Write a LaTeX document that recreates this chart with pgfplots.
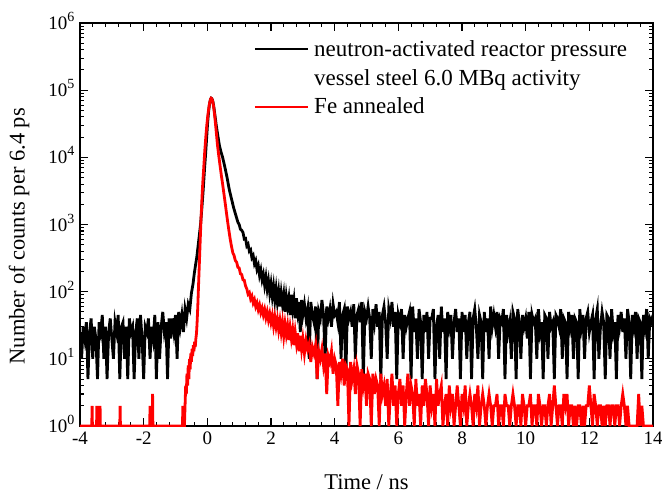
\documentclass[border=0pt]{standalone}
\usepackage{fontspec}
\setmainfont{Liberation Serif}
\usepackage{pgfplots}
\pgfplotsset{compat=1.18}
\definecolor{myred}{RGB}{255,0,0}
\newcommand{\expo}[1]{\raisebox{0.42em}{\fontsize{14bp}{14bp}\selectfont #1}}
\begin{document}
\begin{tikzpicture}
\begin{axis}[
  at={(0,0)}, anchor=south west,
  scale only axis, width=573bp, height=403bp,
  xmin=-4, xmax=14, ymin=1, ymax=1000000,
  ymode=log,
  xtick={-4,-2,0,2,4,6,8,10,12,14},
  xticklabels={-4,-2,0,2,4,6,8,10,12,14},
  minor x tick num=4,
  ytick={1,10,100,1000,10000,100000,1000000},
  yticklabels={10\expo{0},10\expo{1},10\expo{2},10\expo{3},10\expo{4},10\expo{5},10\expo{6}},
  minor ytick={2,3,4,5,6,7,8,9,20,30,40,50,60,70,80,90,200,300,400,500,600,700,800,900,2000,3000,4000,5000,6000,7000,8000,9000,20000,30000,40000,50000,60000,70000,80000,90000,200000,300000,400000,500000,600000,700000,800000,900000},
  tick align=inside,
  xtick pos=both, ytick pos=both,
  xticklabel pos=lower, yticklabel pos=left,
  major tick length=8bp, minor tick length=4.5bp,
  every tick/.style={black, line width=1.1bp},
  axis line style={line width=1.4bp},
  tick label style={font=\fontsize{19bp}{21bp}\selectfont},
  yticklabel style={xshift=-2bp, yshift=2bp},
  xticklabel style={yshift=-2bp},
  label style={font=\fontsize{22.5bp}{26bp}\selectfont},
  xlabel={Time / ns},
  ylabel={Number of counts per 6.4 ps},
  xlabel style={at={(axis description cs:0.5,0)}, anchor=center, yshift=-56bp},
  ylabel style={at={([xshift=-61bp]axis description cs:0,0.471)}, anchor=center},
]
\addplot[black, line width=2.8bp] coordinates {
(-4.00,25)(-3.95,10)(-3.90,30)(-3.85,20)(-3.80,35)(-3.75,5)(-3.70,25)(-3.65,40)(-3.60,10)(-3.55,30)(-3.50,20)(-3.45,5)(-3.40,35)(-3.35,25)(-3.30,45)(-3.25,10)(-3.20,30)(-3.15,5)(-3.10,25)(-3.05,40)
(-3.00,20)(-2.95,10)(-2.90,35)(-2.85,25)(-2.80,45)(-2.75,5)(-2.70,30)(-2.65,35)(-2.60,10)(-2.55,30)(-2.50,5)(-2.45,40)(-2.40,25)(-2.35,30)(-2.30,5)(-2.25,25)(-2.20,40)(-2.15,10)(-2.10,45)(-2.05,20)
(-2.00,5)(-1.95,30)(-1.90,25)(-1.85,40)(-1.80,10)(-1.75,30)(-1.70,20)(-1.65,45)(-1.60,5)(-1.55,35)(-1.50,10)(-1.45,30)(-1.40,50)(-1.35,25)(-1.30,35)(-1.25,5)(-1.20,40)
(-1.15,20)(-1.10,40)(-1.05,25)(-1.00,45)(-0.95,10)(-0.90,50)(-0.85,30)(-0.80,45)(-0.75,25)(-0.70,55)(-0.65,40)(-0.60,65)(-0.55,55)(-0.50,95)(-0.45,130)(-0.41,186)(-0.37,250)(-0.33,330)(-0.29,480)(-0.25,700)(-0.21,1040)(-0.17,1800)(-0.13,3250)(-0.09,6500)(-0.05,12000)(-0.02,20000)(0.01,33000)(0.04,48000)(0.07,63000)(0.10,73000)(0.12,76000)(0.14,75000)(0.17,69000)(0.20,58000)(0.24,42000)(0.28,30000)(0.33,21000)(0.38,15000)(0.43,12000)(0.48,10000)(0.55,7200)(0.62,5000)(0.69,3300)(0.76,2400)(0.83,1750)(0.90,1350)(0.96,1080)
(1.00,1000)(1.04,850)(1.08,820)(1.12,760)(1.16,610)(1.20,620)(1.24,480)(1.28,510)(1.32,400)(1.36,420)(1.40,320)(1.44,345)(1.48,260)(1.52,290)(1.56,215)(1.60,245)(1.64,175)(1.68,210)(1.72,150)(1.76,180)(1.80,125)(1.84,165)(1.88,110)(1.92,145)(1.96,95)(2.00,130)(2.04,85)(2.08,120)(2.12,75)(2.16,110)(2.20,70)(2.24,100)(2.28,60)(2.32,95)(2.36,65)(2.40,90)(2.44,50)(2.48,85)(2.52,60)(2.56,80)(2.60,45)(2.64,90)(2.68,55)(2.72,75)(2.76,40)(2.80,80)(2.84,50)(2.88,70)(2.92,25)(2.96,75)(3.00,45)
(3.05,65)(3.10,40)(3.15,55)(3.20,10)(3.25,70)(3.30,45)(3.35,35)(3.40,60)(3.45,5)(3.50,50)(3.55,40)(3.60,75)(3.65,45)(3.70,10)(3.75,60)(3.80,40)(3.85,55)(3.90,30)(3.95,65)(4.00,45)
(4.05,50)(4.10,35)(4.15,70)(4.20,10)(4.25,45)(4.30,55)(4.35,5)(4.40,60)(4.45,40)(4.50,50)(4.55,30)(4.60,65)(4.65,10)(4.70,45)(4.75,55)(4.80,35)(4.85,70)(4.90,5)(4.95,50)(5.00,40)
(5.05,60)(5.10,40)(5.15,10)(5.20,55)(5.25,35)(5.30,65)(5.35,30)(5.40,50)(5.45,5)(5.50,45)(5.55,60)(5.60,35)(5.65,10)(5.70,55)(5.75,40)(5.80,70)(5.85,30)(5.90,50)(5.95,5)(6.00,45)
(6.05,35)(6.10,55)(6.15,10)(6.20,45)(6.25,30)(6.30,40)(6.35,50)(6.40,5)(6.45,60)(6.50,25)(6.55,40)(6.60,10)(6.65,55)(6.70,35)(6.75,5)(6.80,45)(6.85,25)(6.90,50)(6.95,10)(7.00,40)
(7.05,40)(7.10,55)(7.15,5)(7.20,30)(7.25,45)(7.30,10)(7.35,60)(7.40,25)(7.45,40)(7.50,5)(7.55,50)(7.60,30)(7.65,45)(7.70,10)(7.75,35)(7.80,55)(7.85,25)(7.90,40)(7.95,5)(8.00,50)
(8.05,25)(8.10,45)(8.15,10)(8.20,35)(8.25,50)(8.30,5)(8.35,40)(8.40,55)(8.45,30)(8.50,10)(8.55,45)(8.60,35)(8.65,5)(8.70,50)(8.75,25)(8.80,40)(8.85,10)(8.90,60)(8.95,30)(9.00,45)
(9.05,30)(9.10,50)(9.15,10)(9.20,40)(9.25,35)(9.30,55)(9.35,5)(9.40,45)(9.45,25)(9.50,35)(9.55,10)(9.60,50)(9.65,40)(9.70,5)(9.75,55)(9.80,35)(9.85,10)(9.90,45)(9.95,30)(10.00,40)
(10.05,20)(10.10,50)(10.15,5)(10.20,45)(10.25,35)(10.30,40)(10.35,10)(10.40,55)(10.45,25)(10.50,35)(10.55,5)(10.60,45)(10.65,40)(10.70,10)(10.75,50)(10.80,30)(10.85,35)(10.90,5)(10.95,45)(11.00,40)
(11.05,30)(11.10,55)(11.15,10)(11.20,40)(11.25,35)(11.30,5)(11.35,50)(11.40,30)(11.45,45)(11.50,10)(11.55,40)(11.60,35)(11.65,5)(11.70,55)(11.75,30)(11.80,45)(11.85,10)(11.90,40)(11.95,50)(12.00,25)
(12.05,35)(12.10,45)(12.15,5)(12.20,40)(12.25,55)(12.30,10)(12.35,30)(12.40,50)(12.45,35)(12.50,5)(12.55,45)(12.60,40)(12.65,10)(12.70,55)(12.75,25)(12.80,35)(12.85,5)(12.90,45)(12.95,30)(13.00,50)
(13.05,25)(13.10,40)(13.15,10)(13.20,55)(13.25,35)(13.30,5)(13.35,45)(13.40,30)(13.45,50)(13.50,10)(13.55,40)(13.60,35)(13.65,5)(13.70,45)(13.75,30)(13.80,55)(13.85,10)(13.90,40)(13.95,35)(14.00,45)
};
\addplot[myred, line width=2.8bp] coordinates {
(-4.00,1)(-3.63,1)(-3.62,2)(-3.61,1)(-3.48,1)(-3.47,2)(-3.46,1)(-3.38,1)(-3.37,2)(-3.36,1)(-2.75,1)(-2.74,2)(-2.73,1)(-1.81,1)(-1.80,2)(-1.79,1)(-1.73,1)(-1.72,3)(-1.71,1)(-0.78,1)(-0.77,2)(-0.76,1)
(-0.72,1)(-0.70,2)(-0.68,4)(-0.66,3)(-0.64,6)(-0.62,4)(-0.60,8)(-0.58,5)(-0.56,10)(-0.54,7)(-0.52,12)(-0.50,9)(-0.48,14)(-0.46,11)(-0.44,16)(-0.42,13)(-0.40,18)(-0.38,15)(-0.36,20)(-0.34,24)(-0.32,36)(-0.30,60)(-0.28,110)(-0.26,200)(-0.24,360)(-0.22,650)(-0.20,1150)(-0.18,1900)(-0.16,3000)(-0.14,4400)(-0.12,6200)(-0.10,8800)(-0.08,12500)(-0.05,19500)(-0.02,29000)
(0.01,40000)(0.04,52000)(0.07,64000)(0.10,73000)(0.12,76000)(0.14,75000)(0.17,68000)(0.20,56000)(0.24,38000)(0.28,24000)(0.32,15000)(0.36,10500)(0.40,7500)(0.44,5400)(0.48,4000)(0.52,2900)(0.56,2100)(0.60,1500)(0.64,1080)(0.68,800)(0.72,600)(0.76,470)(0.80,380)
(0.84,345)(0.88,290)(0.92,275)(0.96,230)(1.00,225)(1.04,185)(1.08,180)(1.12,150)(1.16,148)(1.20,122)(1.24,110)(1.28,92)(1.32,97)(1.36,78)(1.40,86)(1.44,68)(1.48,76)(1.52,60)(1.56,68)(1.60,54)(1.64,63)(1.68,49)(1.72,57)(1.76,45)(1.80,54)(1.84,41)(1.88,50)(1.92,38)(1.96,47)(2.00,35)
(2.04,44)(2.08,31)(2.12,42)(2.16,30)(2.20,39)(2.24,27)(2.28,37)(2.32,25)(2.36,35)(2.40,22)(2.44,33)(2.48,23)(2.52,31)(2.56,19)(2.60,29)(2.64,20)(2.68,27)(2.72,16)(2.76,25)(2.80,17)(2.84,24)(2.88,13)(2.92,22)(2.96,14)(3.00,20)
(3.05,12)(3.10,19)(3.15,14)(3.20,17)(3.25,9)(3.30,15)(3.35,12)(3.40,16)(3.45,5)(3.50,13)(3.55,10)(3.60,14)(3.65,8)(3.70,12)(3.75,3)(3.80,11)(3.85,9)(3.90,13)(3.95,6)(4.00,10)
(4.05,8)(4.10,2)(4.15,9)(4.20,6)(4.25,10)(4.30,4)(4.35,8)(4.40,7)(4.45,1)(4.50,9)(4.55,5)(4.60,7)(4.65,3)(4.70,8)(4.75,6)(4.80,1)(4.85,7)(4.90,4)(4.95,6)(5.00,2)
(5.05,6)(5.10,5)(5.15,1)(5.20,6)(5.25,3)(5.30,5)(5.35,4)(5.40,1)(5.45,6)(5.50,3)
(5.55,4)(5.60,2)(5.65,5)(5.70,1)(5.75,3)(5.80,6)(5.85,2)(5.90,4)(5.95,1)(6.00,3)(6.05,5)(6.10,2)(6.15,4)(6.20,1)(6.25,3)(6.30,6)(6.35,2)(6.40,4)(6.45,3)(6.50,1)
(6.55,5)(6.60,2)(6.65,3)(6.70,1)(6.75,4)(6.80,2)(6.85,5)(6.90,3)(6.95,1)(7.00,4)(7.05,2)(7.10,3)(7.15,1)(7.20,5)(7.25,2)(7.30,3)(7.35,4)(7.40,1)(7.45,2)(7.50,3)
(7.55,1)(7.60,4)(7.65,2)(7.70,3)(7.75,1)(7.80,2)(7.85,4)(7.90,2)(7.95,1)(8.00,3)(8.05,2)(8.10,4)(8.15,1)(8.20,2)(8.25,3)(8.30,2)(8.35,1)(8.40,3)(8.45,2)(8.50,4)(8.55,1)(8.60,2)
(8.65,3)(8.70,2)(8.75,1)(8.80,2)(8.85,3)(8.90,2)(8.95,1)(9.00,2)(9.05,2)(9.10,3)(9.15,1)(9.20,2)(9.25,2)(9.30,1)(9.35,3)(9.40,2)(9.45,2)(9.50,1)(9.55,2)(9.60,3)
(9.65,2)(9.70,1)(9.75,2)(9.80,2)(9.85,1)(9.90,3)(9.95,2)(10.00,1)(10.05,2)(10.10,2)(10.15,3)(10.20,1)(10.25,2)(10.30,2)(10.35,1)(10.40,3)(10.45,2)(10.50,1)(10.55,2)(10.60,2)
(10.65,1)(10.70,2)(10.75,3)(10.80,1)(10.85,2)(10.90,4)(10.95,2)(11.00,1)(11.05,2)(11.10,2)(11.15,1)(11.20,3)(11.25,2)(11.30,3)(11.35,1)(11.40,2)(11.45,2)(11.50,1)(11.55,2)(11.60,1)
(11.65,2)(11.70,2)(11.75,1)(11.80,2)(11.85,1)(11.90,2)(11.95,2)(12.00,4)(12.05,2)(12.10,1)(12.15,3)(12.20,2)(12.25,1)(12.30,2)(12.35,2)(12.40,1)(12.45,2)(12.50,1)(12.55,2)(12.60,2)
(12.65,1)(12.70,2)(12.75,2)(12.80,1)(12.85,2)(12.90,2)(12.95,1)(13.00,2)(13.05,3)(13.10,2)(13.15,1)(13.20,2)(13.25,1)(13.30,1)(13.35,1)(13.40,1)(13.45,1)(13.50,1)(13.55,3)(13.60,1)
(13.65,2)(13.70,1)(13.75,1)(13.80,1)(13.85,1)(13.90,1)(13.95,1)(14.00,1)
};
\draw[black, line width=2bp] (rel axis cs:0.3054,0.9355) -- (rel axis cs:0.3979,0.9355);
\draw[myred, line width=2bp] (rel axis cs:0.3054,0.7916) -- (rel axis cs:0.3979,0.7916);
\node[anchor=base west, inner sep=0pt, font=\fontsize{23bp}{26bp}\selectfont] at (rel axis cs:0.4084,0.918) {neutron-activated reactor pressure};
\node[anchor=base west, inner sep=0pt, font=\fontsize{23bp}{26bp}\selectfont] at (rel axis cs:0.4084,0.846) {vessel steel 6.0 MBq activity};
\node[anchor=base west, inner sep=0pt, font=\fontsize{23bp}{26bp}\selectfont] at (rel axis cs:0.4084,0.7754) {Fe annealed};
\end{axis}
\pgfresetboundingbox
\path[use as bounding box] (-80bp,-67bp) rectangle (582bp,426bp);
\end{tikzpicture}
\end{document}
